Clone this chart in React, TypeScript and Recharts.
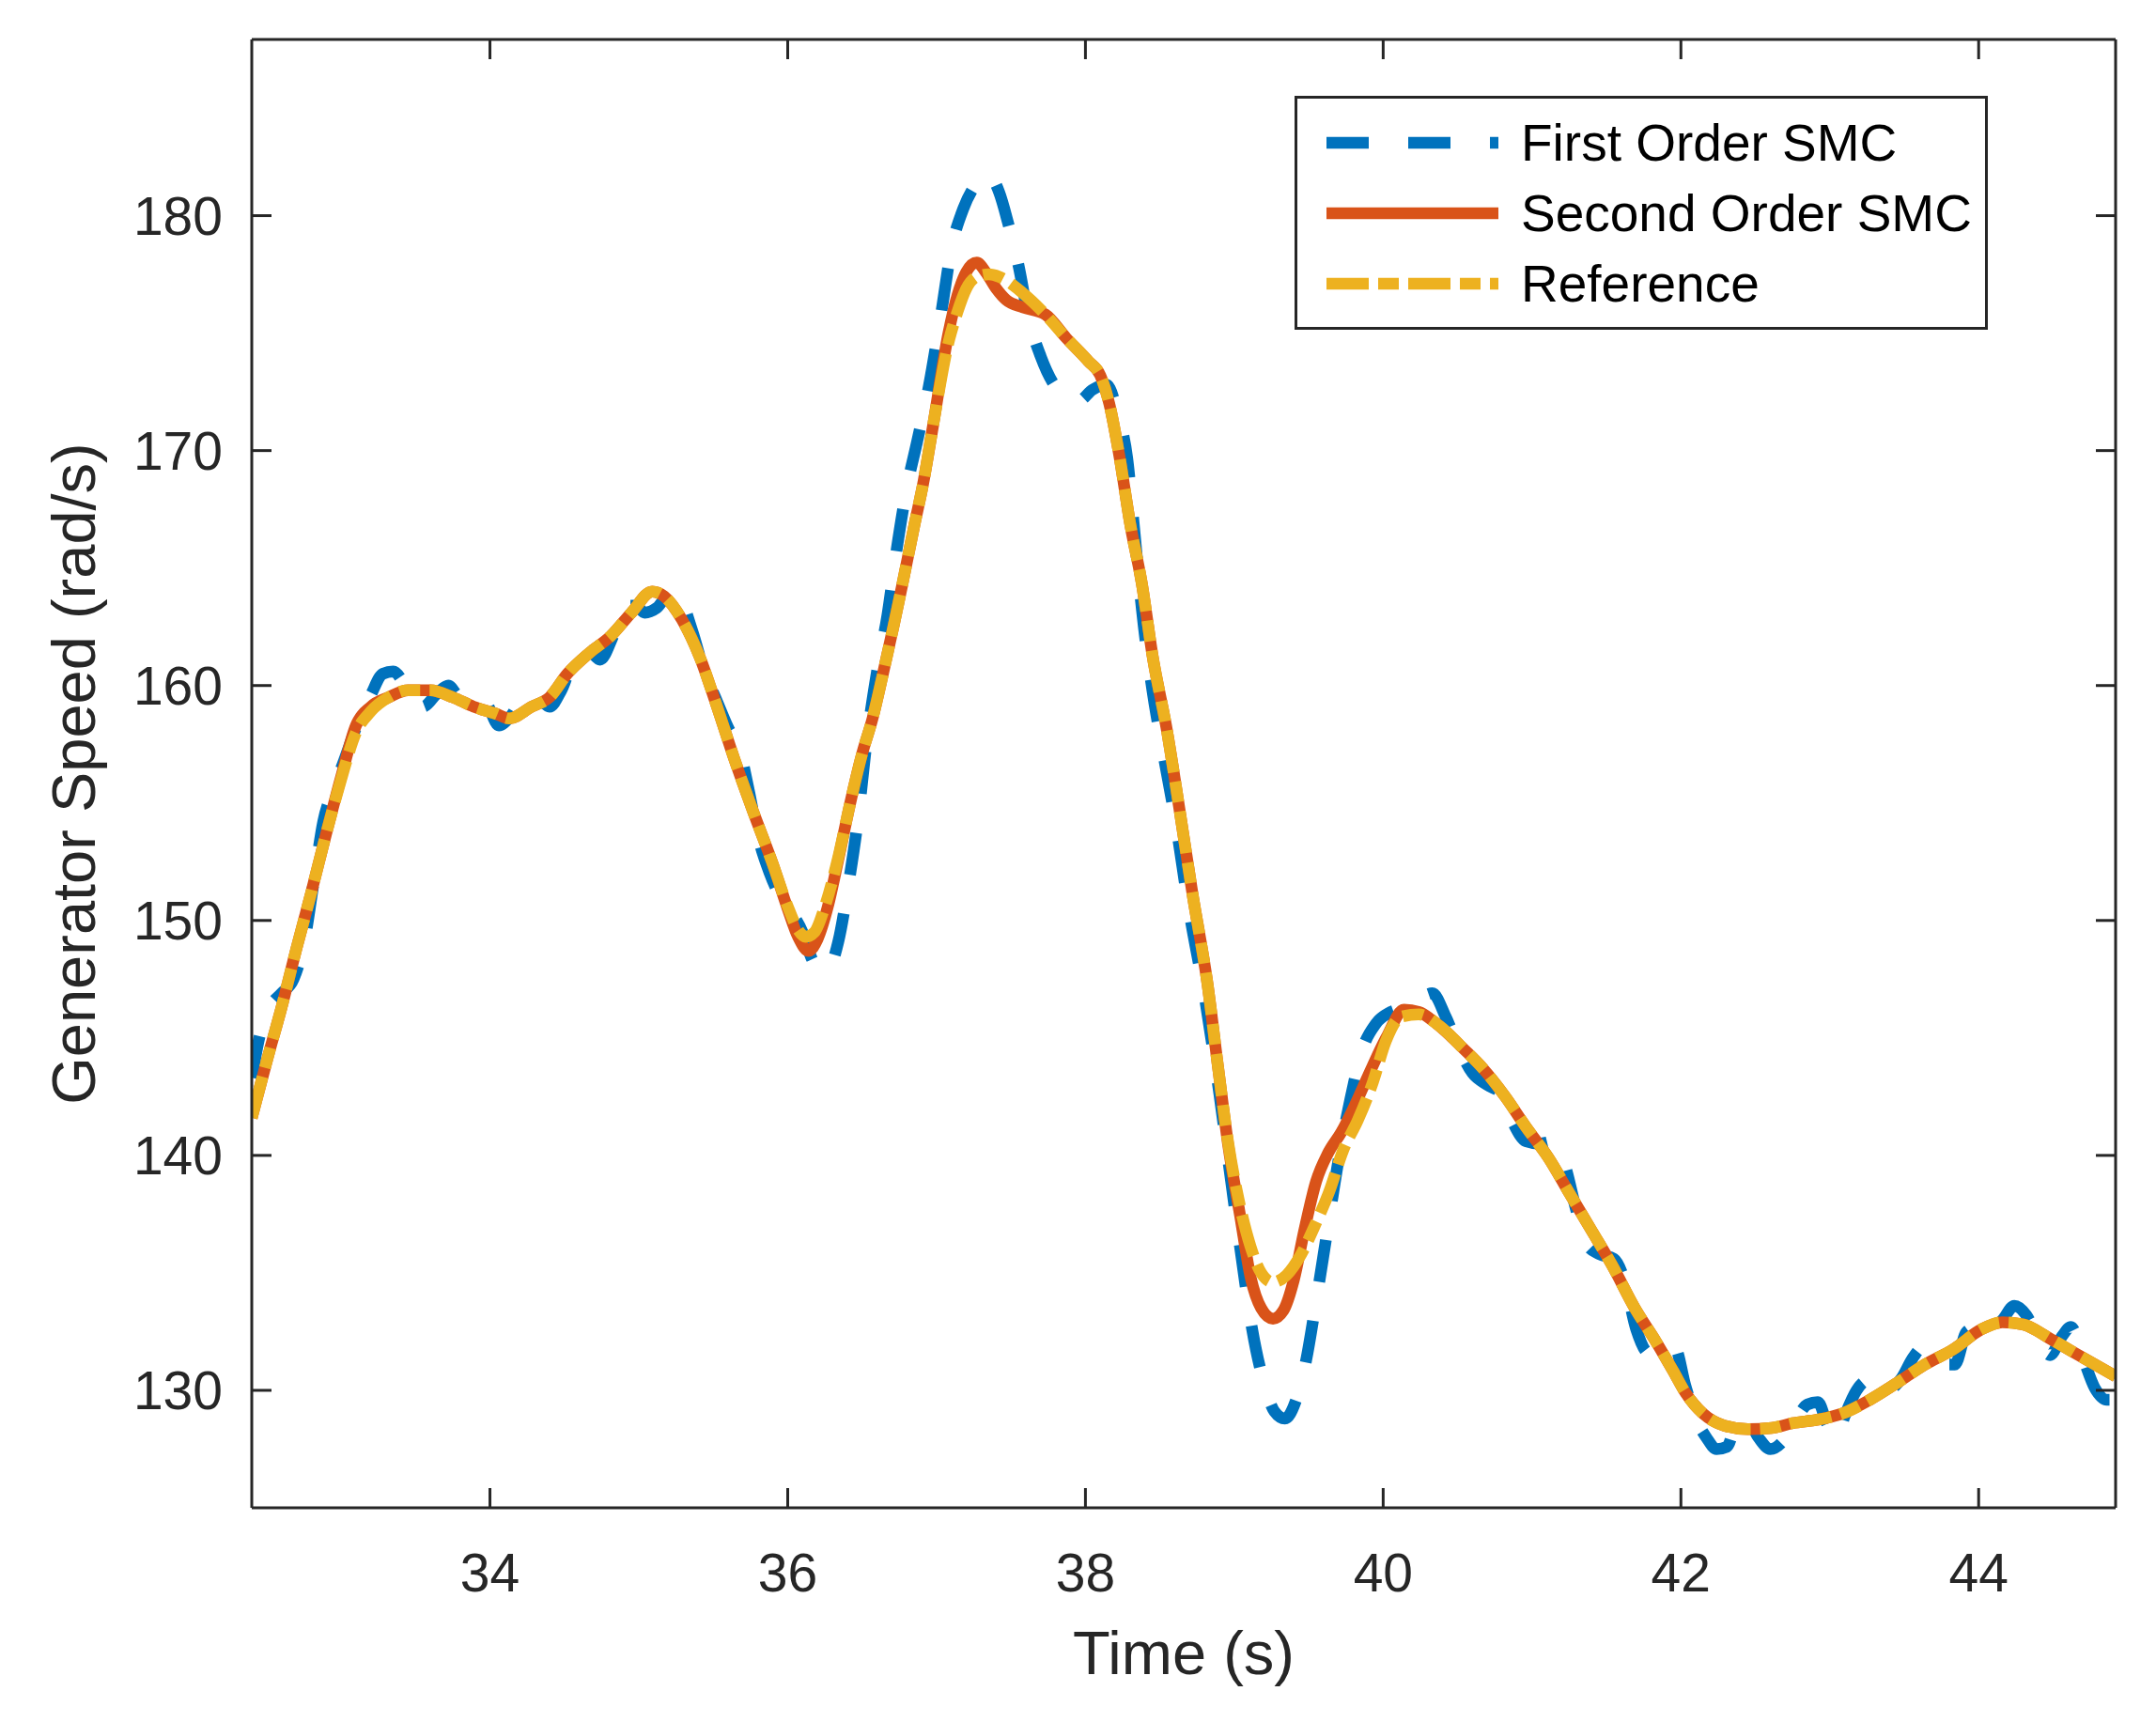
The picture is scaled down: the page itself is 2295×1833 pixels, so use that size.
import React from 'react';
import { LineChart, Line, XAxis, YAxis, Legend } from 'recharts';

const W = 2295;
const H = 1833;
const PLOT = { left: 268, top: 42, right: 2252, bottom: 1605 };
const TICK_LEN = 21;
const AXIS = '#262626';
const FONT = '"Liberation Sans", Arial, Helvetica, sans-serif';

const X_DOMAIN: [number, number] = [32.4, 44.92];
const Y_DOMAIN: [number, number] = [125, 187.5];
const X_TICKS = [34, 36, 38, 40, 42, 44];
const Y_TICKS = [130, 140, 150, 160, 170, 180];

// [time (s), speed (rad/s)]
const firstOrder: [number, number][] = [
  [32.4, 143.3], [32.45, 145.0], [32.52, 146.3], [32.6, 146.9], [32.68, 147.5], [32.75, 149.0],
  [32.82, 151.8], [32.88, 154.2], [32.95, 155.6], [33.02, 156.8], [33.1, 158.2], [33.2, 159.6],
  [33.28, 160.5], [33.35, 160.6], [33.45, 159.8], [33.55, 159.1], [33.65, 159.7], [33.72, 160.0],
  [33.8, 159.5], [33.9, 159.5], [33.98, 159.2], [34.06, 158.3], [34.14, 158.7], [34.24, 159.6],
  [34.32, 159.5], [34.4, 159.1], [34.48, 159.8], [34.58, 161.3], [34.66, 161.5], [34.74, 161.1],
  [34.82, 162.0], [34.9, 163.4], [34.98, 163.4], [35.04, 163.1], [35.12, 163.3], [35.22, 164.0],
  [35.28, 163.7], [35.36, 162.3], [35.44, 160.6], [35.52, 159.4], [35.6, 158.2], [35.68, 157.2],
  [35.74, 155.5], [35.8, 153.6], [35.88, 152.0], [35.96, 150.9], [36.03, 150.3], [36.1, 149.5],
  [36.16, 148.4], [36.23, 147.8], [36.29, 148.1], [36.34, 149.1], [36.41, 151.6], [36.47, 154.2],
  [36.53, 157.6], [36.6, 160.6], [36.67, 163.0], [36.73, 165.7], [36.8, 168.4], [36.87, 170.4],
  [36.95, 172.8], [37.03, 175.8], [37.1, 178.6], [37.18, 180.3], [37.26, 181.3], [37.34, 181.8],
  [37.42, 181.0], [37.48, 179.7], [37.55, 177.9], [37.62, 175.6], [37.7, 174.0], [37.78, 172.9],
  [37.86, 172.3], [37.95, 172.1], [38.05, 172.6], [38.14, 172.8], [38.22, 171.5], [38.28, 169.7],
  [38.33, 166.5], [38.38, 163.2], [38.45, 159.8], [38.52, 157.2], [38.6, 154.4], [38.7, 150.3],
  [38.8, 146.8], [38.9, 142.6], [38.97, 139.3], [39.05, 135.6], [39.12, 132.6], [39.2, 130.3],
  [39.27, 129.1], [39.34, 128.8], [39.41, 129.5], [39.48, 131.2], [39.55, 133.8], [39.62, 136.6],
  [39.7, 139.8], [39.78, 142.4], [39.86, 144.5], [39.95, 145.6], [40.05, 146.1], [40.15, 146.3],
  [40.25, 146.7], [40.33, 146.9], [40.42, 145.9], [40.5, 144.7], [40.6, 143.5], [40.7, 143.0],
  [40.8, 142.6], [40.88, 141.3], [40.96, 140.6], [41.05, 140.5], [41.15, 140.6], [41.22, 139.6],
  [41.3, 137.6], [41.37, 136.2], [41.45, 135.8], [41.55, 135.6], [41.62, 134.7], [41.7, 132.6],
  [41.78, 131.6], [41.88, 131.5], [41.96, 131.8], [42.03, 130.2], [42.1, 128.8], [42.17, 128.0],
  [42.24, 127.5], [42.31, 127.6], [42.38, 128.7], [42.44, 128.8], [42.52, 128.0], [42.6, 127.5],
  [42.68, 127.8], [42.76, 128.6], [42.85, 129.4], [42.92, 129.5], [42.98, 128.6], [43.04, 127.9],
  [43.1, 128.9], [43.18, 130.0], [43.25, 130.4], [43.32, 129.9], [43.4, 130.0], [43.48, 130.5],
  [43.56, 131.4], [43.62, 131.8], [43.7, 131.6], [43.78, 131.1], [43.84, 131.1], [43.92, 132.5],
  [44.0, 132.7], [44.08, 132.5], [44.16, 133.0], [44.24, 133.6], [44.32, 133.2], [44.4, 132.2],
  [44.48, 131.5], [44.56, 132.3], [44.62, 132.7], [44.7, 131.4], [44.78, 130.1], [44.86, 129.6],
  [44.92, 129.6],
];

const secondOrder: [number, number][] = [
  [32.4, 141.6], [32.5, 144.0], [32.6, 146.3], [32.7, 148.8], [32.8, 151.2], [32.9, 153.7],
  [33.0, 156.1], [33.1, 158.3], [33.2, 159.1], [33.32, 159.5], [33.45, 159.8], [33.6, 159.8],
  [33.75, 159.5], [33.89, 159.1], [34.04, 158.8], [34.13, 158.6], [34.28, 159.1], [34.4, 159.5],
  [34.52, 160.5], [34.67, 161.4], [34.81, 162.1], [34.95, 163.1], [35.09, 164.0], [35.17, 163.8],
  [35.29, 162.8], [35.41, 161.2], [35.52, 159.2], [35.64, 156.9], [35.77, 154.6], [35.9, 152.4],
  [36.0, 150.5], [36.07, 149.3], [36.14, 148.7], [36.2, 149.2], [36.27, 150.6], [36.34, 152.6],
  [36.42, 155.0], [36.5, 157.1], [36.57, 158.6], [36.64, 160.5], [36.71, 162.5], [36.77, 164.3],
  [36.85, 166.8], [36.91, 168.6], [36.98, 171.2], [37.08, 175.0], [37.14, 176.6], [37.2, 177.6],
  [37.27, 178.0], [37.33, 177.6], [37.4, 176.9], [37.47, 176.4], [37.58, 176.1], [37.73, 175.8],
  [37.87, 174.8], [38.02, 173.8], [38.1, 173.2], [38.16, 172.0], [38.23, 169.7], [38.3, 166.9],
  [38.38, 164.3], [38.45, 161.3], [38.55, 158.0], [38.63, 154.8], [38.72, 151.1], [38.82, 147.3],
  [38.89, 143.8], [38.96, 140.4], [39.04, 137.4], [39.11, 134.8], [39.18, 133.5], [39.26, 133.05],
  [39.33, 133.4], [39.4, 134.7], [39.47, 136.8], [39.55, 138.9], [39.63, 140.1], [39.72, 141.0],
  [39.8, 142.0], [39.9, 143.4], [40.02, 145.0], [40.14, 146.2], [40.24, 146.1], [40.34, 145.7],
  [40.45, 145.1], [40.53, 144.6], [40.67, 143.7], [40.82, 142.5], [40.96, 141.2], [41.11, 139.9],
  [41.25, 138.4], [41.4, 136.8], [41.54, 135.3], [41.69, 133.5], [41.83, 132.1], [41.95, 130.8],
  [42.03, 129.9], [42.15, 129.0], [42.29, 128.5], [42.45, 128.35], [42.61, 128.4], [42.75, 128.6],
  [42.92, 128.75], [43.08, 129.0], [43.27, 129.6], [43.46, 130.35], [43.64, 131.1], [43.83, 131.75],
  [44.02, 132.6], [44.16, 132.9], [44.3, 132.8], [44.48, 132.2], [44.67, 131.5], [44.92, 130.6],
];

const reference: [number, number][] = [
  [32.4, 141.6], [32.5, 144.0], [32.6, 146.3], [32.7, 148.8], [32.8, 151.2], [32.9, 153.7],
  [33.0, 156.0], [33.1, 158.0], [33.2, 158.9], [33.32, 159.5], [33.45, 159.8], [33.6, 159.8],
  [33.75, 159.5], [33.89, 159.1], [34.04, 158.8], [34.13, 158.6], [34.28, 159.1], [34.4, 159.5],
  [34.52, 160.5], [34.67, 161.4], [34.81, 162.1], [34.95, 163.1], [35.09, 164.0], [35.17, 163.8],
  [35.29, 162.8], [35.41, 161.2], [35.52, 159.2], [35.64, 156.9], [35.77, 154.6], [35.9, 152.4],
  [36.0, 150.6], [36.07, 149.6], [36.12, 149.3], [36.18, 149.5], [36.25, 150.6], [36.34, 152.7],
  [36.42, 155.0], [36.5, 157.1], [36.57, 158.6], [36.64, 160.5], [36.71, 162.5], [36.77, 164.3],
  [36.85, 166.8], [36.91, 168.6], [36.98, 171.2], [37.08, 174.6], [37.14, 175.9], [37.2, 176.9],
  [37.27, 177.4], [37.35, 177.5], [37.42, 177.4], [37.58, 176.7], [37.73, 175.8], [37.87, 174.8],
  [38.02, 173.8], [38.1, 173.2], [38.16, 172.0], [38.23, 169.7], [38.3, 166.9], [38.38, 164.3],
  [38.45, 161.3], [38.55, 158.0], [38.63, 154.8], [38.72, 151.1], [38.82, 147.3], [38.89, 143.8],
  [38.96, 140.5], [39.04, 137.8], [39.11, 136.1], [39.18, 135.0], [39.26, 134.6], [39.35, 134.9],
  [39.45, 135.8], [39.54, 137.0], [39.64, 138.5], [39.73, 140.2], [39.83, 141.5], [39.93, 143.1],
  [40.02, 144.9], [40.12, 145.9], [40.24, 146.0], [40.38, 145.5], [40.53, 144.6], [40.67, 143.7],
  [40.82, 142.5], [40.96, 141.2], [41.11, 139.9], [41.25, 138.4], [41.4, 136.8], [41.54, 135.3],
  [41.69, 133.5], [41.83, 132.1], [41.95, 130.8], [42.03, 129.9], [42.15, 129.0], [42.29, 128.5],
  [42.45, 128.35], [42.61, 128.4], [42.75, 128.6], [42.92, 128.75], [43.08, 129.0], [43.27, 129.6],
  [43.46, 130.35], [43.64, 131.1], [43.83, 131.75], [44.02, 132.6], [44.16, 132.9], [44.3, 132.8],
  [44.48, 132.2], [44.67, 131.5], [44.92, 130.6],
];

const toRows = (pts: [number, number][]) => pts.map(([t, v]) => ({ t, v }));

const SERIES = [
  { name: 'First Order SMC', color: '#0072BD', dash: '45 42', data: toRows(firstOrder) },
  { name: 'Second Order SMC', color: '#D95319', dash: undefined, data: toRows(secondOrder) },
  { name: 'Reference', color: '#EDB120', dash: '45 10 22 10', data: toRows(reference) },
];

const LINE_W = 12.5;

const BottomTick = ({ x, payload }: any) => (
  <g>
    <line x1={x} x2={x} y1={PLOT.bottom} y2={PLOT.bottom - TICK_LEN} stroke={AXIS} strokeWidth={3} />
    <text x={x} y={PLOT.bottom + 89} textAnchor="middle" fontSize={57} fill={AXIS} fontFamily={FONT}>
      {payload.value}
    </text>
  </g>
);

const TopTick = ({ x }: any) => (
  <line x1={x} x2={x} y1={PLOT.top} y2={PLOT.top + TICK_LEN} stroke={AXIS} strokeWidth={3} />
);

const LeftTick = ({ y, payload }: any) => (
  <g>
    <line x1={PLOT.left} x2={PLOT.left + TICK_LEN} y1={y} y2={y} stroke={AXIS} strokeWidth={3} />
    <text x={PLOT.left - 31} y={y + 20} textAnchor="end" fontSize={57} fill={AXIS} fontFamily={FONT}>
      {payload.value}
    </text>
  </g>
);

const RightTick = ({ y }: any) => (
  <line x1={PLOT.right} x2={PLOT.right - TICK_LEN} y1={y} y2={y} stroke={AXIS} strokeWidth={3} />
);

const LegendBox = () => (
  <div
    style={{
      width: 738,
      height: 249,
      boxSizing: 'border-box',
      border: `3px solid ${AXIS}`,
      background: '#fff',
      position: 'relative',
    }}
  >
    <svg width={738} height={249} style={{ position: 'absolute', left: -3, top: -3 }}>
      {SERIES.map((s, i) => {
        const cy = 50 + i * 75;
        return (
          <g key={s.name}>
            <line x1={34} x2={217} y1={cy} y2={cy} stroke={s.color} strokeWidth={LINE_W} strokeDasharray={s.dash} />
            <text x={241} y={cy + 19} fontSize={55} fill="#000" fontFamily={FONT}>
              {s.name}
            </text>
          </g>
        );
      })}
    </svg>
  </div>
);

const App: React.FC = () => {
  return (
    <div style={{ position: 'absolute', left: 0, top: 0, width: W, height: H, background: '#fff' }}>
      <LineChart
        width={W}
        height={H}
        margin={{ top: PLOT.top - 2, right: W - PLOT.right - 2, bottom: H - PLOT.bottom - 150, left: PLOT.left - 200 }}
      >
        <XAxis
          xAxisId="bottom"
          dataKey="t"
          type="number"
          domain={X_DOMAIN}
          ticks={X_TICKS}
          allowDataOverflow
          height={150}
          axisLine={{ stroke: AXIS, strokeWidth: 3 }}
          tickLine={false}
          tick={<BottomTick />}
          label={() => (
            <text
              x={(PLOT.left + PLOT.right) / 2}
              y={1782}
              textAnchor="middle"
              fontSize={65}
              fill={AXIS}
              fontFamily={FONT}
            >
              Time (s)
            </text>
          )}
        />
        <XAxis
          xAxisId="top"
          orientation="top"
          dataKey="t"
          type="number"
          domain={X_DOMAIN}
          ticks={X_TICKS}
          allowDataOverflow
          height={2}
          axisLine={{ stroke: AXIS, strokeWidth: 3 }}
          tickLine={false}
          tick={<TopTick />}
        />
        <YAxis
          yAxisId="left"
          type="number"
          domain={Y_DOMAIN}
          ticks={Y_TICKS}
          allowDataOverflow
          width={200}
          axisLine={{ stroke: AXIS, strokeWidth: 3 }}
          tickLine={false}
          tick={<LeftTick />}
          label={() => (
            <text
              x={101}
              y={(PLOT.top + PLOT.bottom) / 2}
              transform={`rotate(-90 101 ${(PLOT.top + PLOT.bottom) / 2})`}
              textAnchor="middle"
              fontSize={65}
              fill={AXIS}
              fontFamily={FONT}
            >
              Generator Speed (rad/s)
            </text>
          )}
        />
        <YAxis
          yAxisId="right"
          orientation="right"
          type="number"
          domain={Y_DOMAIN}
          ticks={Y_TICKS}
          allowDataOverflow
          width={2}
          axisLine={{ stroke: AXIS, strokeWidth: 3 }}
          tickLine={false}
          tick={<RightTick />}
        />
        {SERIES.map((s) => (
          <Line
            key={s.name}
            xAxisId="bottom"
            yAxisId="left"
            data={s.data}
            dataKey="v"
            name={s.name}
            type="monotone"
            stroke={s.color}
            strokeWidth={LINE_W}
            strokeDasharray={s.dash}
            dot={false}
            activeDot={false}
            isAnimationActive={false}
          />
        ))}
        <Legend
          layout="horizontal"
          verticalAlign="middle"
          align="center"
          content={<LegendBox />}
          wrapperStyle={{ position: 'absolute', left: 1378, top: 102, width: 738, height: 249 }}
        />
      </LineChart>
    </div>
  );
};

export default App;
